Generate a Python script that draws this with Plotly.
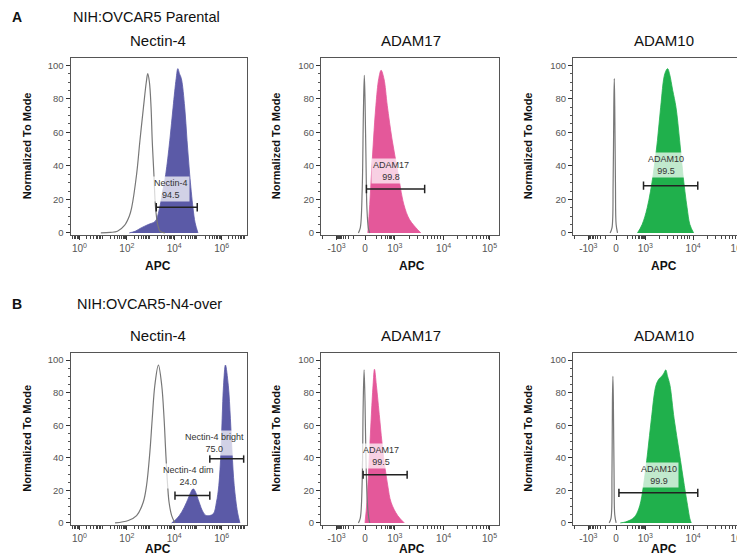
import numpy as np
import plotly.graph_objects as go

# ---- histogram data (x in display units, y = % of mode) ----
# A: NIH:OVCAR5 Parental, Nectin-4 (x in log10 decades)
a_nec_iso_x = [0.9, 1.3, 1.6, 1.9, 2.1, 2.2, 2.41, 2.55, 2.7, 2.82, 2.88, 2.95, 3.02, 3.07, 3.14, 3.21, 3.3, 3.4, 3.6]
a_nec_iso_y = [0, 0.3, 1, 4.5, 10, 15, 35, 55, 75, 90, 95, 90, 75, 55, 35, 15, 5, 1, 0]
a_nec_x = [2.1, 2.35, 2.6, 2.9, 3.2, 3.35, 3.5, 3.64, 3.81, 3.95, 4.08, 4.15, 4.22, 4.3, 4.44, 4.54, 4.65, 4.79, 4.88, 5.0]
a_nec_y = [0, 1, 3, 5, 7, 13, 24, 35, 55, 75, 92, 98, 95, 92, 75, 55, 35, 15, 6, 0]

# A: ADAM17 (biexponential display units)
a_17_iso_x = [-0.14, -0.1, -0.06, -0.035, -0.015, 0.0, 0.02, 0.04, 0.07, 0.1]
a_17_iso_y = [0, 3, 25, 70, 94, 80, 45, 15, 3, 0]
a_17_x = [0.06, 0.1, 0.14, 0.18, 0.23, 0.29, 0.34, 0.4, 0.47, 0.57, 0.69, 0.82, 0.94, 1.11, 1.18]
a_17_y = [0, 17, 37, 56, 76, 92, 97, 92, 76, 56, 37, 17, 8, 2, 0]

# A: ADAM10
a_10_iso_x = [-0.13, -0.09, -0.065, -0.05, -0.04, -0.03, -0.015, 0.0, 0.03]
a_10_iso_y = [0, 3, 30, 75, 92, 75, 30, 5, 0]
a_10_x = [0.46, 0.56, 0.67, 0.8, 0.89, 0.96, 1.05, 1.11, 1.15, 1.22, 1.29, 1.37, 1.44, 1.53, 1.59, 1.67]
a_10_y = [0, 5, 15, 35, 55, 75, 95, 98, 95, 85, 75, 55, 35, 15, 5, 0]

# B: NIH:OVCAR5-N4-over, Nectin-4
b_nec_iso_x = [1.5, 2.06, 2.41, 2.69, 2.83, 2.97, 3.07, 3.18, 3.33, 3.47, 3.57, 3.64, 3.72, 3.78, 3.89, 4.03]
b_nec_iso_y = [0, 1.5, 4.5, 12.7, 23, 43.5, 64, 84.6, 97, 84.6, 64, 43.5, 23, 12.7, 4.5, 0]
b_nec_x = [3.89, 4.1, 4.31, 4.52, 4.7, 4.8, 4.9, 5.05, 5.22, 5.36, 5.64, 5.78, 5.88, 5.97, 6.02, 6.08,
           6.16, 6.28, 6.37, 6.44, 6.53, 6.67, 6.77]
b_nec_y = [0, 2.5, 6.6, 12.7, 18.9, 21, 18.9, 12.7, 6.6, 4.5, 5.5, 12.7, 23, 43.5, 64, 84.6,
           97, 84.6, 64, 43.5, 23, 6.6, 0]

# B: ADAM17
b_17_iso_x = [-0.14, -0.1, -0.06, -0.04, -0.02, 0.0, 0.02, 0.05, 0.08, 0.1]
b_17_iso_y = [0, 3, 25, 70, 94, 75, 40, 12, 3, 0]
b_17_x = [0.0, 0.04, 0.095, 0.13, 0.17, 0.2, 0.24, 0.31, 0.38, 0.48, 0.55, 0.69, 0.83]
b_17_y = [0, 12.7, 43.5, 64, 84.6, 94.4, 84.6, 64, 43.5, 23, 12.7, 4.5, 0]

# B: ADAM10
b_10_iso_x = [-0.15, -0.11, -0.09, -0.08, -0.07, -0.06, -0.045, -0.03, 0.0]
b_10_iso_y = [0, 3, 30, 75, 90, 75, 30, 5, 0]
b_10_x = [0.09, 0.2, 0.35, 0.42, 0.51, 0.59, 0.68, 0.76, 0.86, 0.93, 0.98, 1.03, 1.07, 1.11, 1.16,
          1.25, 1.36, 1.47, 1.54, 1.59, 1.62]
b_10_y = [0, 0.6, 2.5, 4.5, 10.7, 23, 43.5, 64, 84.6, 88.7, 90, 92, 94, 90, 84.6,
          64, 43.5, 23, 10.7, 2.5, 0]

# gates: (x0, x1, y, label, label_x, label_y)
a_nec_gates = [(3.24, 4.97, 15.3, "Nectin-4<br>94.5", 3.88, 26)]
a_17_gates = [(0.03, 1.26, 26.2, "ADAM17<br>99.8", 0.55, 37)]
a_10_gates = [(0.59, 1.76, 28.2, "ADAM10<br>99.5", 1.08, 40.6)]
b_nec_gates = [(4.03, 5.5, 16.8, "Nectin-4 dim<br>24.0", 4.58, 29),
               (5.5, 6.93, 39.4, "Nectin-4 bright<br>75.0", 5.7, 49.4)]
b_17_gates = [(-0.04, 0.89, 29.6, "ADAM17<br>99.5", 0.34, 41)]
b_10_gates = [(0.06, 1.76, 18.5, "ADAM10<br>99.9", 0.93, 29.4)]

# tick labels
log_tickvals = [0, 2, 4, 6]
log_ticktext = ["10<sup>0</sup>", "10<sup>2</sup>", "10<sup>4</sup>", "10<sup>6</sup>"]
bi_tickvals = [-0.6, 0, 0.63, 1.66, 2.63]
bi_ticktext = ["-10<sup>3</sup>", "0", "10<sup>3</sup>", "10<sup>4</sup>", "10<sup>5</sup>"]

BLUE = "#5b5aa7"
PINK = "#e4589a"
GREEN = "#20b04c"
FONT = "Arial, Liberation Sans, sans-serif"

# minor tick positions (styling only)
log_minor = [n + np.log10(k) for n in range(-1, 8) for k in range(2, 10)]
log_minor = [v for v in log_minor if -0.38 < v < 7.07]
bi_minor = []
for base in [0.63, 1.66, 2.63]:
    bi_minor += [base + np.log10(k) for k in range(2, 10)]
bi_minor += [0.63 * np.arcsinh(k * 2) / np.arcsinh(20) for k in range(1, 10)]
bi_minor += [-0.6 * np.arcsinh(k * 2) / np.arcsinh(20) for k in range(1, 10)]
bi_minor += [-0.6 - np.log10(k) for k in range(2, 3)]
bi_minor = [v for v in bi_minor if -0.93 < v < 2.9]

panels = [
    dict(iso=(a_nec_iso_x, a_nec_iso_y), pos=(a_nec_x, a_nec_y), color=BLUE, gates=a_nec_gates,
         kind="log", xr=[-0.38, 7.07], xd=[0.0839, 0.3208], yd=[0.5905, 0.9104]),
    dict(iso=(a_17_iso_x, a_17_iso_y), pos=(a_17_x, a_17_y), color=PINK, gates=a_17_gates,
         kind="bi", xr=[-0.93, 2.84], xd=[0.4201, 0.6597], yd=[0.5905, 0.9104]),
    dict(iso=(a_10_iso_x, a_10_iso_y), pos=(a_10_x, a_10_y), color=GREEN, gates=a_10_gates,
         kind="bi", xr=[-0.93, 2.93], xd=[0.7584, 0.9987], yd=[0.5905, 0.9104]),
    dict(iso=(b_nec_iso_x, b_nec_iso_y), pos=(b_nec_x, b_nec_y), color=BLUE, gates=b_nec_gates,
         kind="log", xr=[-0.38, 7.07], xd=[0.0839, 0.3208], yd=[0.0681, 0.3787]),
    dict(iso=(b_17_iso_x, b_17_iso_y), pos=(b_17_x, b_17_y), color=PINK, gates=b_17_gates,
         kind="bi", xr=[-0.93, 2.84], xd=[0.4201, 0.6597], yd=[0.0681, 0.3787]),
    dict(iso=(b_10_iso_x, b_10_iso_y), pos=(b_10_x, b_10_y), color=GREEN, gates=b_10_gates,
         kind="bi", xr=[-0.93, 2.93], xd=[0.7584, 0.9987], yd=[0.0681, 0.3787]),
]

fig = go.Figure()
layout = {}
annotations = []
shapes = []

for i, p in enumerate(panels):
    n = i + 1
    sfx = "" if n == 1 else str(n)
    xref, yref = "x" + sfx, "y" + sfx

    fig.add_trace(go.Scatter(x=p["pos"][0], y=p["pos"][1], xaxis=xref, yaxis=yref,
                             mode="lines", fill="tozeroy", fillcolor=p["color"],
                             line=dict(color=p["color"], width=0.8), line_shape="spline",
                             hoverinfo="skip"))
    fig.add_trace(go.Scatter(x=p["iso"][0], y=p["iso"][1], xaxis=xref, yaxis=yref,
                             mode="lines", line=dict(color="#777777", width=1.2),
                             line_shape="spline", hoverinfo="skip"))

    if p["kind"] == "log":
        tv, tt, mv = log_tickvals, log_ticktext, log_minor
    else:
        tv, tt, mv = bi_tickvals, bi_ticktext, bi_minor

    layout["xaxis" + sfx] = dict(
        domain=p["xd"], range=p["xr"], anchor=yref, showgrid=False, zeroline=False,
        showline=True, mirror=True, linecolor="#555555", linewidth=1,
        ticks="outside", ticklen=4, tickcolor="#333333", tickwidth=1.2,
        tickmode="array", tickvals=tv, ticktext=tt,
        tickfont=dict(family=FONT, size=10, color="#555555"),
        minor=dict(tickmode="array", tickvals=mv, ticks="outside", ticklen=2.5,
                   tickcolor="#444444", showgrid=False),
    )
    layout["yaxis" + sfx] = dict(
        domain=p["yd"], range=[-1.4, 104.5], anchor=xref, showgrid=False, zeroline=False,
        showline=True, mirror=True, linecolor="#555555", linewidth=1,
        ticks="outside", ticklen=4, tickcolor="#333333", tickwidth=1.2,
        tickvals=[0, 20, 40, 60, 80, 100],
        tickfont=dict(family=FONT, size=9.5, color="#555555"),
        minor=dict(dtick=5, ticks="outside", ticklen=2, tickcolor="#555555", showgrid=False),
    )

    for (x0, x1, gy, label, lx, ly) in p["gates"]:
        line = dict(color="#222222", width=1.5)
        shapes.append(dict(type="line", xref=xref, yref=yref, x0=x0, x1=x1, y0=gy, y1=gy, line=line))
        shapes.append(dict(type="line", xref=xref, yref=yref, x0=x0, x1=x0, y0=gy - 2.5, y1=gy + 2.5, line=line))
        shapes.append(dict(type="line", xref=xref, yref=yref, x0=x1, x1=x1, y0=gy - 2.5, y1=gy + 2.5, line=line))
        annotations.append(dict(x=lx, y=ly, xref=xref, yref=yref, text=label, showarrow=False,
                                bgcolor="rgba(255,255,255,0.72)", borderpad=1,
                                font=dict(family=FONT, size=9, color="#333333")))

W, H = 745, 558


def px_ann(x, y, text, size, bold=False, angle=0, xanchor="center", color="#111111"):
    if bold:
        text = "<b>" + text + "</b>"
    return dict(x=x / W, y=1 - y / H, xref="paper", yref="paper", text=text, showarrow=False,
                textangle=angle, xanchor=xanchor, yanchor="middle",
                font=dict(family=FONT, size=size, color=color))


# section headers
annotations.append(px_ann(2, 9, "A", 14, bold=True, xanchor="left"))
annotations.append(px_ann(63, 9, "NIH:OVCAR5 Parental", 14.5, xanchor="left"))
annotations.append(px_ann(2, 298, "B", 14, bold=True, xanchor="left"))
annotations.append(px_ann(67, 298, "NIH:OVCAR5-N4-over", 14.5, xanchor="left"))

# panel titles
titles = ["Nectin-4", "ADAM17", "ADAM10"]
title_x = [150, 403, 656]
for t, tx in zip(titles, title_x):
    annotations.append(px_ann(tx, 33, t, 15))
    annotations.append(px_ann(tx, 329, t, 15))

# axis titles
ylab_x = [19, 268, 520]
apc_x = [150, 404, 656]
for yx, ax in zip(ylab_x, apc_x):
    annotations.append(px_ann(yx, 139, "Normalized To Mode", 11, bold=True, angle=-90))
    annotations.append(px_ann(yx, 433, "Normalized To Mode", 11, bold=True, angle=-90))
    annotations.append(px_ann(ax, 259, "APC", 12, bold=True))
    annotations.append(px_ann(ax, 544, "APC", 12, bold=True))

layout.update(dict(
    width=W, height=H, margin=dict(l=0, r=0, t=0, b=0),
    paper_bgcolor="white", plot_bgcolor="white", showlegend=False,
    annotations=annotations, shapes=shapes,
))
fig.update_layout(**layout)

fig.write_html("out.html")
